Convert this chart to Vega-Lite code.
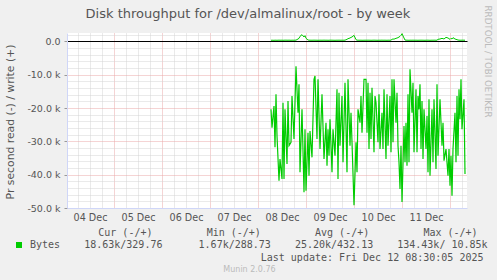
{
 "$schema": "https://vega.github.io/schema/vega-lite/v6.json",
 "width": 400, "height": 175,
 "autosize": "none",
 "padding": {"left": 67, "top": 33, "right": 30, "bottom": 72},
 "background": "#f0f0f0",
 "config": {"view": {"fill": "#ffffff", "stroke": null}, "font": "DejaVu Sans"},
 "title": {"text": "Disk throughput for /dev/almalinux/root - by week", "font": "DejaVu Sans", "fontSize": 13, "fontWeight": "normal", "color": "#555555", "anchor": "middle", "frame": "group", "dx": -19, "dy": 15.5, "offset": 0},
 "data": {"values": [
  {"t": "2025-12-08T06:30:00Z", "read": -20400, "write": 320},
  {"t": "2025-12-08T07:00:00Z", "read": -25900, "write": 330},
  {"t": "2025-12-08T08:00:00Z", "read": -19400, "write": 310},
  {"t": "2025-12-08T08:30:00Z", "read": -31800, "write": 340},
  {"t": "2025-12-08T09:00:00Z", "read": -15900, "write": 330},
  {"t": "2025-12-08T09:30:00Z", "read": -28300, "write": 320},
  {"t": "2025-12-08T10:30:00Z", "read": -41800, "write": 350},
  {"t": "2025-12-08T11:00:00Z", "read": -35300, "write": 330},
  {"t": "2025-12-08T12:00:00Z", "read": -41300, "write": 340},
  {"t": "2025-12-08T12:30:00Z", "read": -18400, "write": 320},
  {"t": "2025-12-08T13:00:00Z", "read": -41300, "write": 330},
  {"t": "2025-12-08T13:30:00Z", "read": -20400, "write": 350},
  {"t": "2025-12-08T14:30:00Z", "read": -36800, "write": 340},
  {"t": "2025-12-08T15:00:00Z", "read": -17900, "write": 330},
  {"t": "2025-12-08T15:30:00Z", "read": -31300, "write": 350},
  {"t": "2025-12-08T16:30:00Z", "read": -30300, "write": 320},
  {"t": "2025-12-08T17:00:00Z", "read": -16400, "write": 340},
  {"t": "2025-12-08T18:00:00Z", "read": -29300, "write": 330},
  {"t": "2025-12-08T19:00:00Z", "read": -7500, "write": 360},
  {"t": "2025-12-08T20:00:00Z", "read": -21400, "write": 700},
  {"t": "2025-12-08T20:30:00Z", "read": -12900, "write": 900},
  {"t": "2025-12-08T21:00:00Z", "read": -39300, "write": 1500},
  {"t": "2025-12-08T22:00:00Z", "read": -20400, "write": 2000},
  {"t": "2025-12-08T23:00:00Z", "read": -45300, "write": 1300},
  {"t": "2025-12-08T23:30:00Z", "read": -26400, "write": 1700},
  {"t": "2025-12-09T00:00:00Z", "read": -44800, "write": 900},
  {"t": "2025-12-09T01:00:00Z", "read": -27400, "write": 400},
  {"t": "2025-12-09T01:30:00Z", "read": -40300, "write": 350},
  {"t": "2025-12-09T02:00:00Z", "read": -26900, "write": 340},
  {"t": "2025-12-09T03:00:00Z", "read": -34800, "write": 330},
  {"t": "2025-12-09T04:00:00Z", "read": -11400, "write": 350},
  {"t": "2025-12-09T04:30:00Z", "read": -10400, "write": 340},
  {"t": "2025-12-09T05:30:00Z", "read": -29300, "write": 330},
  {"t": "2025-12-09T06:00:00Z", "read": -11400, "write": 320},
  {"t": "2025-12-09T07:00:00Z", "read": -32300, "write": 340},
  {"t": "2025-12-09T08:00:00Z", "read": -15900, "write": 330},
  {"t": "2025-12-09T09:00:00Z", "read": -35300, "write": 350},
  {"t": "2025-12-09T10:00:00Z", "read": -24400, "write": 330},
  {"t": "2025-12-09T10:30:00Z", "read": -37300, "write": 340},
  {"t": "2025-12-09T11:00:00Z", "read": -26400, "write": 320},
  {"t": "2025-12-09T11:30:00Z", "read": -34300, "write": 330},
  {"t": "2025-12-09T12:00:00Z", "read": -23400, "write": 350},
  {"t": "2025-12-09T13:00:00Z", "read": -39300, "write": 340},
  {"t": "2025-12-09T13:30:00Z", "read": -26400, "write": 330},
  {"t": "2025-12-09T14:30:00Z", "read": -34300, "write": 320},
  {"t": "2025-12-09T15:30:00Z", "read": -14400, "write": 340},
  {"t": "2025-12-09T16:00:00Z", "read": -41300, "write": 330},
  {"t": "2025-12-09T16:30:00Z", "read": -15400, "write": 350},
  {"t": "2025-12-09T17:00:00Z", "read": -31300, "write": 330},
  {"t": "2025-12-09T18:00:00Z", "read": -16400, "write": 340},
  {"t": "2025-12-09T18:30:00Z", "read": -36300, "write": 330},
  {"t": "2025-12-09T19:30:00Z", "read": -12400, "write": 350},
  {"t": "2025-12-09T20:30:00Z", "read": -39300, "write": 600},
  {"t": "2025-12-09T21:00:00Z", "read": -11400, "write": 800},
  {"t": "2025-12-09T22:00:00Z", "read": -31300, "write": 1000},
  {"t": "2025-12-09T22:30:00Z", "read": -21400, "write": 1200},
  {"t": "2025-12-09T23:00:00Z", "read": -30300, "write": 1300},
  {"t": "2025-12-10T00:00:00Z", "read": -49200, "write": 1800},
  {"t": "2025-12-10T01:00:00Z", "read": -30300, "write": 500},
  {"t": "2025-12-10T01:30:00Z", "read": -39300, "write": 350},
  {"t": "2025-12-10T02:00:00Z", "read": -20400, "write": 340},
  {"t": "2025-12-10T03:00:00Z", "read": -24400, "write": 330},
  {"t": "2025-12-10T03:30:00Z", "read": -16400, "write": 340},
  {"t": "2025-12-10T04:00:00Z", "read": -27400, "write": 320},
  {"t": "2025-12-10T05:00:00Z", "read": -11400, "write": 330},
  {"t": "2025-12-10T06:00:00Z", "read": -11400, "write": 340},
  {"t": "2025-12-10T06:30:00Z", "read": -27400, "write": 330},
  {"t": "2025-12-10T07:00:00Z", "read": -12400, "write": 350},
  {"t": "2025-12-10T07:30:00Z", "read": -32300, "write": 330},
  {"t": "2025-12-10T08:00:00Z", "read": -15400, "write": 340},
  {"t": "2025-12-10T08:30:00Z", "read": -29300, "write": 320},
  {"t": "2025-12-10T09:00:00Z", "read": -13900, "write": 330},
  {"t": "2025-12-10T10:00:00Z", "read": -33300, "write": 350},
  {"t": "2025-12-10T10:30:00Z", "read": -16400, "write": 340},
  {"t": "2025-12-10T11:00:00Z", "read": -18400, "write": 330},
  {"t": "2025-12-10T12:00:00Z", "read": -30300, "write": 320},
  {"t": "2025-12-10T12:30:00Z", "read": -15900, "write": 340},
  {"t": "2025-12-10T13:00:00Z", "read": -32300, "write": 330},
  {"t": "2025-12-10T14:00:00Z", "read": -21400, "write": 350},
  {"t": "2025-12-10T14:30:00Z", "read": -32300, "write": 330},
  {"t": "2025-12-10T15:00:00Z", "read": -14400, "write": 340},
  {"t": "2025-12-10T16:00:00Z", "read": -35300, "write": 330},
  {"t": "2025-12-10T16:30:00Z", "read": -15900, "write": 320},
  {"t": "2025-12-10T17:00:00Z", "read": -31300, "write": 340},
  {"t": "2025-12-10T18:00:00Z", "read": -16400, "write": 330},
  {"t": "2025-12-10T18:30:00Z", "read": -33300, "write": 350},
  {"t": "2025-12-10T19:00:00Z", "read": -11400, "write": 600},
  {"t": "2025-12-10T19:30:00Z", "read": -30300, "write": 700},
  {"t": "2025-12-10T20:00:00Z", "read": -11400, "write": 650},
  {"t": "2025-12-10T21:00:00Z", "read": -24400, "write": 900},
  {"t": "2025-12-10T21:30:00Z", "read": -15400, "write": 1000},
  {"t": "2025-12-10T22:00:00Z", "read": -31300, "write": 1100},
  {"t": "2025-12-10T22:30:00Z", "read": -36300, "write": 1300},
  {"t": "2025-12-10T23:00:00Z", "read": -44300, "write": 1500},
  {"t": "2025-12-10T23:30:00Z", "read": -31300, "write": 1800},
  {"t": "2025-12-11T00:00:00Z", "read": -48200, "write": 2300},
  {"t": "2025-12-11T01:00:00Z", "read": -25400, "write": 1000},
  {"t": "2025-12-11T01:30:00Z", "read": -36300, "write": 400},
  {"t": "2025-12-11T02:00:00Z", "read": -24400, "write": 350},
  {"t": "2025-12-11T02:30:00Z", "read": -37300, "write": 340},
  {"t": "2025-12-11T03:00:00Z", "read": -15900, "write": 330},
  {"t": "2025-12-11T03:30:00Z", "read": -36300, "write": 320},
  {"t": "2025-12-11T04:00:00Z", "read": -8400, "write": 340},
  {"t": "2025-12-11T05:00:00Z", "read": -21400, "write": 330},
  {"t": "2025-12-11T05:30:00Z", "read": -12400, "write": 350},
  {"t": "2025-12-11T06:00:00Z", "read": -33300, "write": 330},
  {"t": "2025-12-11T07:00:00Z", "read": -14400, "write": 340},
  {"t": "2025-12-11T07:30:00Z", "read": -33300, "write": 330},
  {"t": "2025-12-11T08:00:00Z", "read": -16400, "write": 320},
  {"t": "2025-12-11T08:30:00Z", "read": -20400, "write": 340},
  {"t": "2025-12-11T09:00:00Z", "read": -12900, "write": 330},
  {"t": "2025-12-11T09:30:00Z", "read": -32300, "write": 350},
  {"t": "2025-12-11T10:00:00Z", "read": -17900, "write": 330},
  {"t": "2025-12-11T10:30:00Z", "read": -35300, "write": 340},
  {"t": "2025-12-11T11:00:00Z", "read": -20400, "write": 320},
  {"t": "2025-12-11T12:00:00Z", "read": -32300, "write": 330},
  {"t": "2025-12-11T12:30:00Z", "read": -22400, "write": 350},
  {"t": "2025-12-11T13:00:00Z", "read": -39300, "write": 340},
  {"t": "2025-12-11T13:30:00Z", "read": -17400, "write": 330},
  {"t": "2025-12-11T14:00:00Z", "read": -40300, "write": 320},
  {"t": "2025-12-11T15:00:00Z", "read": -20400, "write": 340},
  {"t": "2025-12-11T15:30:00Z", "read": -36300, "write": 330},
  {"t": "2025-12-11T16:00:00Z", "read": -17400, "write": 350},
  {"t": "2025-12-11T17:00:00Z", "read": -38300, "write": 330},
  {"t": "2025-12-11T17:30:00Z", "read": -12900, "write": 340},
  {"t": "2025-12-11T18:00:00Z", "read": -34300, "write": 600},
  {"t": "2025-12-11T19:00:00Z", "read": -17400, "write": 700},
  {"t": "2025-12-11T20:00:00Z", "read": -31300, "write": 900},
  {"t": "2025-12-11T20:30:00Z", "read": -24400, "write": 800},
  {"t": "2025-12-11T21:00:00Z", "read": -35800, "write": 700},
  {"t": "2025-12-11T22:00:00Z", "read": -32300, "write": 1200},
  {"t": "2025-12-11T23:00:00Z", "read": -40300, "write": 1000},
  {"t": "2025-12-11T23:30:00Z", "read": -32300, "write": 800},
  {"t": "2025-12-12T00:00:00Z", "read": -43300, "write": 600},
  {"t": "2025-12-12T00:30:00Z", "read": -34300, "write": 900},
  {"t": "2025-12-12T01:00:00Z", "read": -46300, "write": 700},
  {"t": "2025-12-12T01:30:00Z", "read": -32300, "write": 1100},
  {"t": "2025-12-12T02:30:00Z", "read": -21400, "write": 700},
  {"t": "2025-12-12T03:00:00Z", "read": -36300, "write": 600},
  {"t": "2025-12-12T03:30:00Z", "read": -16400, "write": 500},
  {"t": "2025-12-12T04:00:00Z", "read": -34300, "write": 400},
  {"t": "2025-12-12T04:30:00Z", "read": -14400, "write": 350},
  {"t": "2025-12-12T05:00:00Z", "read": -23400, "write": 340},
  {"t": "2025-12-12T05:30:00Z", "read": -11400, "write": 330},
  {"t": "2025-12-12T06:00:00Z", "read": -26400, "write": 350},
  {"t": "2025-12-12T07:00:00Z", "read": -17400, "write": 340},
  {"t": "2025-12-12T07:30:00Z", "read": -39800, "write": 330}
 ]},
 "layer": [
  {
   "mark": {"type": "line", "strokeWidth": 1.2, "clip": true},
   "encoding": {
    "x": {
     "field": "t", "type": "temporal",
     "scale": {"type": "utc", "domain": [{"year": 2025, "month": 12, "date": 4, "hours": 0, "minutes": 30, "utc": true}, {"year": 2025, "month": 12, "date": 12, "hours": 8, "minutes": 30, "utc": true}], "nice": false},
     "axis": {
      "orient": "bottom",
      "values": [
       {"year": 2025, "month": 12, "date": 4, "hours": 6, "utc": true},
       {"year": 2025, "month": 12, "date": 4, "hours": 12, "utc": true},
       {"year": 2025, "month": 12, "date": 4, "hours": 18, "utc": true},
       {"year": 2025, "month": 12, "date": 5, "hours": 0, "utc": true},
       {"year": 2025, "month": 12, "date": 5, "hours": 6, "utc": true},
       {"year": 2025, "month": 12, "date": 5, "hours": 12, "utc": true},
       {"year": 2025, "month": 12, "date": 5, "hours": 18, "utc": true},
       {"year": 2025, "month": 12, "date": 6, "hours": 0, "utc": true},
       {"year": 2025, "month": 12, "date": 6, "hours": 6, "utc": true},
       {"year": 2025, "month": 12, "date": 6, "hours": 12, "utc": true},
       {"year": 2025, "month": 12, "date": 6, "hours": 18, "utc": true},
       {"year": 2025, "month": 12, "date": 7, "hours": 0, "utc": true},
       {"year": 2025, "month": 12, "date": 7, "hours": 6, "utc": true},
       {"year": 2025, "month": 12, "date": 7, "hours": 12, "utc": true},
       {"year": 2025, "month": 12, "date": 7, "hours": 18, "utc": true},
       {"year": 2025, "month": 12, "date": 8, "hours": 0, "utc": true},
       {"year": 2025, "month": 12, "date": 8, "hours": 6, "utc": true},
       {"year": 2025, "month": 12, "date": 8, "hours": 12, "utc": true},
       {"year": 2025, "month": 12, "date": 8, "hours": 18, "utc": true},
       {"year": 2025, "month": 12, "date": 9, "hours": 0, "utc": true},
       {"year": 2025, "month": 12, "date": 9, "hours": 6, "utc": true},
       {"year": 2025, "month": 12, "date": 9, "hours": 12, "utc": true},
       {"year": 2025, "month": 12, "date": 9, "hours": 18, "utc": true},
       {"year": 2025, "month": 12, "date": 10, "hours": 0, "utc": true},
       {"year": 2025, "month": 12, "date": 10, "hours": 6, "utc": true},
       {"year": 2025, "month": 12, "date": 10, "hours": 12, "utc": true},
       {"year": 2025, "month": 12, "date": 10, "hours": 18, "utc": true},
       {"year": 2025, "month": 12, "date": 11, "hours": 0, "utc": true},
       {"year": 2025, "month": 12, "date": 11, "hours": 6, "utc": true},
       {"year": 2025, "month": 12, "date": 11, "hours": 12, "utc": true},
       {"year": 2025, "month": 12, "date": 11, "hours": 18, "utc": true},
       {"year": 2025, "month": 12, "date": 12, "hours": 0, "utc": true},
       {"year": 2025, "month": 12, "date": 12, "hours": 6, "utc": true}
      ],
      "grid": true,
      "gridColor": {"condition": {"test": "utchours(datum.value) == 0", "value": "#eaa8a8"}, "value": "#d4d4d4"},
      "gridDash": [1, 1],
      "gridOpacity": 1,
      "ticks": false,
      "domainColor": "#cfd6f8",
      "labelExpr": "utchours(datum.value) == 12 ? utcFormat(datum.value, '%d %b') : ''",
      "labelFont": "DejaVu Sans", "labelFontSize": 9.6, "labelColor": "#555555",
      "labelPadding": 4, "labelOverlap": false, "labelFlush": false, "labelBound": false,
      "title": "Last update: Fri Dec 12 08:30:05 2025",
      "titleFont": "DejaVu Sans Mono", "titleFontSize": 10, "titleFontWeight": "normal", "titleColor": "#555555",
      "titleX": 416, "titleY": 49, "titleAlign": "right", "titleBaseline": "middle"
     }
    },
    "y": {
     "field": "read", "type": "quantitative",
     "scale": {"domain": [-50000, 2500], "nice": false, "zero": false},
     "axis": {
      "orient": "left",
      "values": [-50000, -48000, -46000, -44000, -42000, -40000, -38000, -36000, -34000, -32000, -30000, -28000, -26000, -24000, -22000, -20000, -18000, -16000, -14000, -12000, -10000, -8000, -6000, -4000, -2000, 0, 2000],
      "grid": true,
      "gridColor": {"condition": {"test": "datum.value % 10000 == 0", "value": "#eaa8a8"}, "value": "#d4d4d4"},
      "gridDash": [1, 1],
      "gridOpacity": 1,
      "tickColor": {"condition": {"test": "datum.value % 10000 == 0", "value": "#999999"}, "value": "#ffffff00"},
      "tickSize": 3,
      "domainColor": "#cfd6f8",
      "labelExpr": "datum.value % 10000 != 0 ? '' : (datum.value == 0 ? '0.0' : '-' + format(abs(datum.value) / 1000, '.1f') + ' k')",
      "labelFont": "DejaVu Sans", "labelFontSize": 9.5, "labelColor": "#555555", "labelPadding": 4, "labelOverlap": false, "labelBound": false, "labelFlush": false,
      "title": "Pr second read (-) / write (+)",
      "titleFont": "DejaVu Sans", "titleFontSize": 10.8, "titleFontWeight": "normal", "titleColor": "#555555",
      "titleX": -57, "titleY": 88.5, "titleAngle": 270, "titleAlign": "center", "titleBaseline": "middle"
     }
    },
    "color": {
     "datum": "Bytes", "type": "nominal",
     "scale": {"range": ["#00cc00"]},
     "legend": {
      "orient": "none", "legendX": -53, "legendY": 194.5, "padding": 0,
      "title": "\u200b\u00a0\u00a0\u00a0\u00a0\u00a0\u00a0\u00a0\u00a0\u00a0\u00a0\u00a0\u00a0\u00a0\u00a0Cur\u00a0(-/+)\u00a0\u00a0\u00a0\u00a0\u00a0\u00a0\u00a0\u00a0\u00a0Min\u00a0(-/+)\u00a0\u00a0\u00a0\u00a0\u00a0\u00a0\u00a0\u00a0\u00a0Avg\u00a0(-/+)\u00a0\u00a0\u00a0\u00a0\u00a0\u00a0\u00a0\u00a0\u00a0Max\u00a0(-/+)",
      "titleFont": "DejaVu Sans Mono", "titleFontSize": 10, "titleFontWeight": "normal", "titleColor": "#555555", "titlePadding": 2.5, "titleLimit": 1000,
      "symbolType": "square", "symbolSize": 36, "symbolStrokeWidth": 0, "symbolFillColor": "#00cc00",
      "labelFont": "DejaVu Sans Mono", "labelFontSize": 10, "labelColor": "#555555", "labelLimit": 1000, "labelOffset": 6,
      "labelExpr": "'Bytes\u00a0\u00a0\u00a0\u00a018.63k/329.76\u00a0\u00a0\u00a0\u00a0\u00a0\u00a01.67k/288.73\u00a0\u00a0\u00a0\u00a025.20k/432.13\u00a0\u00a0\u00a0\u00a0134.43k/\u00a010.85k'"
     }
    }
   }
  },
  {
   "mark": {"type": "line", "strokeWidth": 1, "color": "#00cc00", "clip": true},
   "encoding": {
    "x": {
     "field": "t", "type": "temporal",
     "scale": {"type": "utc", "domain": [{"year": 2025, "month": 12, "date": 4, "hours": 0, "minutes": 30, "utc": true}, {"year": 2025, "month": 12, "date": 12, "hours": 8, "minutes": 30, "utc": true}], "nice": false},
     "axis": {
      "orient": "bottom", "labels": false, "ticks": false, "domain": false, "grid": false,
      "title": "Munin 2.0.76",
      "titleFont": "DejaVu Sans", "titleFontSize": 8, "titleFontWeight": "normal", "titleColor": "#bbbbbb",
      "titleX": 182, "titleY": 61, "titleAlign": "center", "titleBaseline": "middle"
     }
    },
    "y": {
     "field": "write", "type": "quantitative",
     "scale": {"domain": [-50000, 2500], "nice": false, "zero": false},
     "axis": {
      "orient": "right", "values": [0], "labels": false, "ticks": false, "domain": false,
      "grid": true, "gridColor": "#000000", "gridOpacity": 1, "gridWidth": 1,
      "title": "RRDTOOL / TOBI OETIKER",
      "titleFont": "DejaVu Sans", "titleFontSize": 8.7, "titleFontWeight": "normal", "titleColor": "#bbbbbb",
      "titleX": 20, "titleY": 28, "titleAngle": 90, "titleAlign": "center", "titleBaseline": "middle"
     }
    }
   }
  }
 ],
 "resolve": {"axis": {"x": "independent", "y": "independent"}}
}
